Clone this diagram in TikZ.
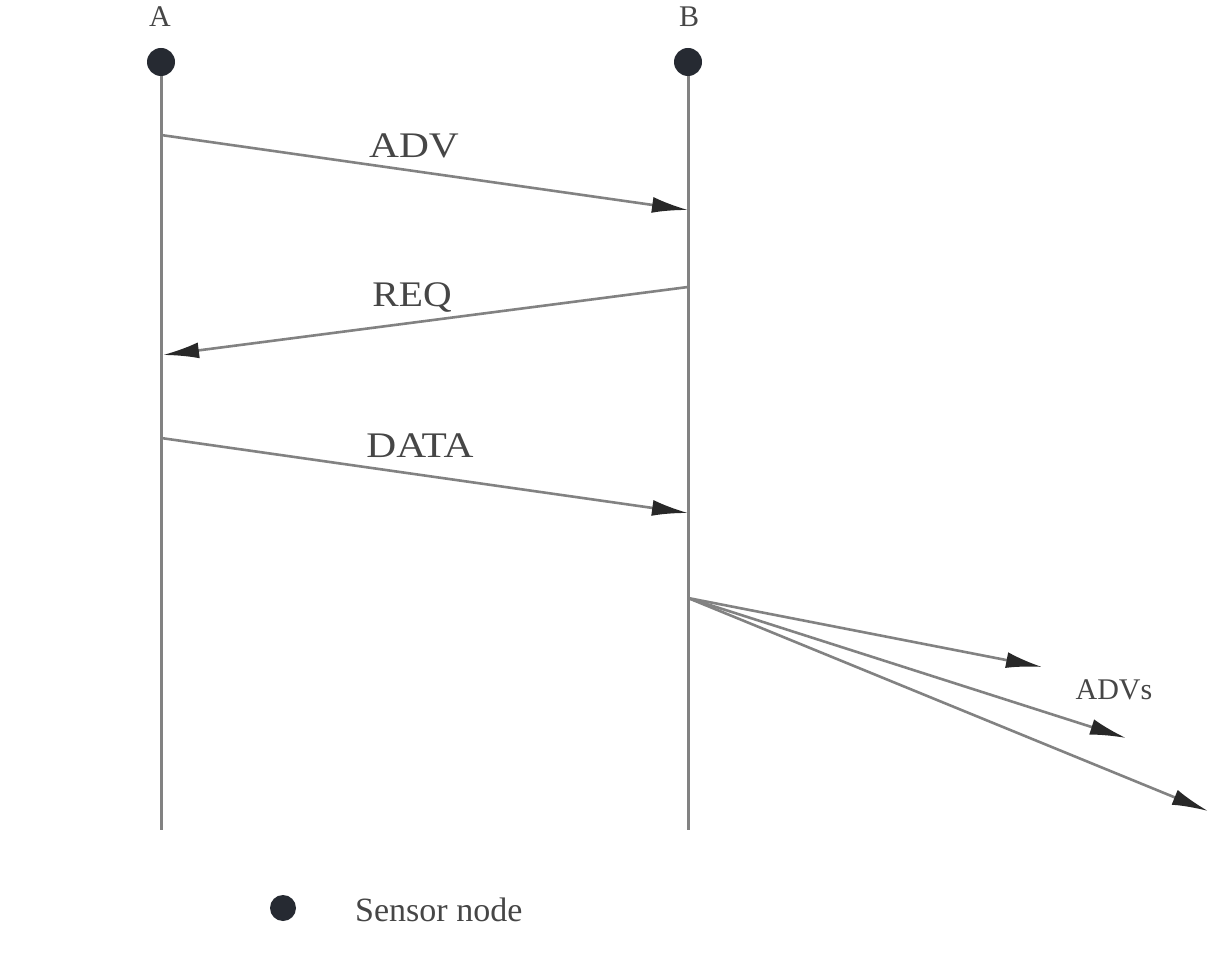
\documentclass[tikz,border=0pt]{standalone}
\usepackage{fontspec}
\setmainfont{Liberation Serif}
\usetikzlibrary{arrows.meta}
\definecolor{linegray}{RGB}{130,130,130}
\definecolor{dotcol}{RGB}{38,42,50}
\definecolor{tipcol}{RGB}{40,40,40}
\definecolor{txtcol}{RGB}{70,70,70}
\tikzset{
  sensor/.style={circle,fill=dotcol,inner sep=0pt,minimum size=28pt},
  lifeline/.style={draw=linegray,line width=3pt},
  msg/.style={draw=linegray,line width=2.6pt,-{Latex[length=36pt,width=16pt,color=tipcol]}},
  lbl/.style={text=txtcol,inner sep=0pt,font=\fontsize{36}{40}\selectfont},
  small/.style={text=txtcol,inner sep=0pt,font=\fontsize{30}{34}\selectfont}
}
\begin{document}
\begin{tikzpicture}[x=1pt,y=-1pt]
\useasboundingbox[fill=white] (0,0) rectangle (1208,957);
% nodes
\node[sensor] (A) at (161,62) {};
\node[sensor] (B) at (688,62) {};
\node[small] (Alab) at (160,17) {A};
\node[small] (Blab) at (689,17) {B};
% lifeline ends
\coordinate (Aend) at (161,830);
\coordinate (Bend) at (688,830);
\draw[lifeline] (A) -- (Aend);
\draw[lifeline] (B) -- (Bend);
% message points
\coordinate (a1) at (161,135);
\coordinate (b1) at (688,210);
\coordinate (b2) at (688,287);
\coordinate (a2) at (163,355);
\coordinate (a3) at (161,438);
\coordinate (b3) at (688,513);
\coordinate (b4) at (688,598);
\coordinate (t1) at (1042,667);
\coordinate (t2) at (1126,738);
\coordinate (t3) at (1208,811);
\draw[msg] (a1) -- (b1);
\draw[msg] (b2) -- (a2);
\draw[msg] (a3) -- (b3);
\draw[msg] (b4) -- (t1);
\draw[msg] (b4) -- (t2);
\draw[msg] (b4) -- (t3);
% labels
\node[lbl] (ladv) at (414,146) {\scalebox{1.15}[1]{ADV}};
\node[lbl] (lreq) at (412,298) {\scalebox{1.1}[1]{REQ}};
\node[lbl] (ldata) at (420,446) {\scalebox{1.15}[1]{DATA}};
\node[small] (ladvs) at (1114,690) {ADVs};
% legend
\node[sensor,minimum size=26pt] (leg) at (283,908) {};
\node[lbl,anchor=west,font=\fontsize{34}{38}\selectfont] (legtxt) at (355,910) {Sensor node};
\end{tikzpicture}
\end{document}
